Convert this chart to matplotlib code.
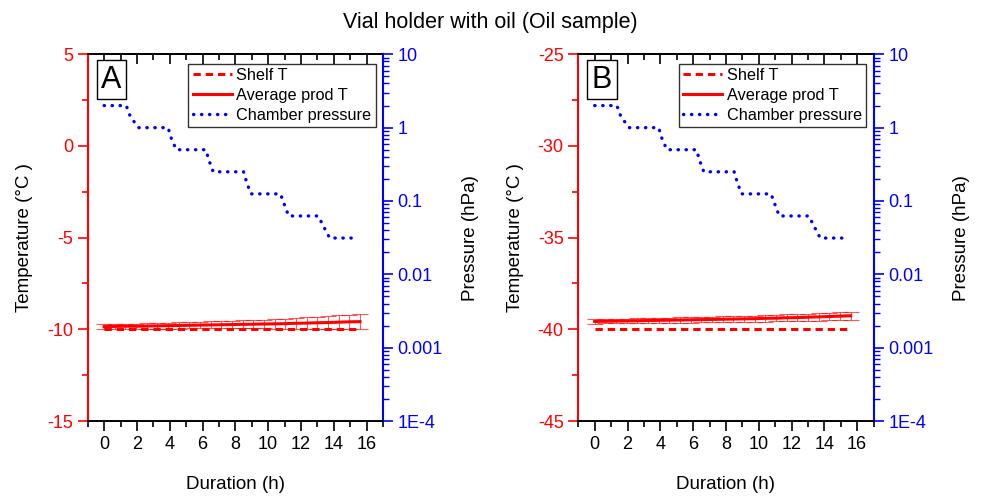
import matplotlib.pyplot as plt
import numpy as np
from matplotlib.ticker import MultipleLocator, LogLocator, FixedLocator, FuncFormatter, NullFormatter
from matplotlib.lines import Line2D

plt.rcParams['font.family'] = ['Liberation Sans', 'DejaVu Sans']
plt.rcParams['axes.unicode_minus'] = False

# ---- data ----
# product temperature sampling times (h)
t_prod = [0.0, 0.65, 1.3, 1.95, 2.6, 3.25, 3.9, 4.55, 5.2, 5.85, 6.5, 7.15, 7.8,
          8.45, 9.1, 9.75, 10.4, 11.05, 11.7, 12.35, 13.0, 13.65, 14.3, 14.95, 15.6]

# panel A (shelf at -10 C)
shelf_a = [-10.0] * len(t_prod)
prod_a = [-9.85, -9.84, -9.83, -9.83, -9.82, -9.81, -9.80, -9.79, -9.78, -9.77,
          -9.76, -9.75, -9.74, -9.73, -9.72, -9.71, -9.70, -9.69, -9.67, -9.66,
          -9.64, -9.63, -9.61, -9.59, -9.58]
err_a = [0.13, 0.13, 0.14, 0.14, 0.15, 0.15, 0.16, 0.17, 0.17, 0.18, 0.19, 0.20,
         0.21, 0.22, 0.23, 0.24, 0.26, 0.28, 0.30, 0.31, 0.33, 0.35, 0.37, 0.39, 0.40]

# panel B (shelf at -40 C)
shelf_b = [-40.0] * len(t_prod)
prod_b = [-39.57, -39.56, -39.55, -39.54, -39.53, -39.52, -39.51, -39.50, -39.49,
          -39.48, -39.47, -39.46, -39.45, -39.44, -39.43, -39.42, -39.40, -39.39,
          -39.37, -39.36, -39.34, -39.32, -39.30, -39.28, -39.26]
err_b = [0.12, 0.12, 0.12, 0.13, 0.13, 0.13, 0.14, 0.14, 0.14, 0.15, 0.15, 0.15,
         0.16, 0.16, 0.17, 0.17, 0.18, 0.18, 0.19, 0.19, 0.20, 0.20, 0.21, 0.21, 0.22]

# chamber pressure profile (same in both panels)
t_pres = [0.0, 1.35, 1.6, 2.1, 3.9, 4.1, 4.4, 6.2, 6.4, 6.65, 8.5, 8.7, 8.95,
          10.75, 11.0, 11.25, 13.05, 13.4, 13.75, 15.2]
pres = [2, 2, 1.41, 1, 1, 0.71, 0.5, 0.5, 0.354, 0.25, 0.25, 0.177, 0.125,
        0.125, 0.088, 0.0625, 0.0625, 0.044, 0.03125, 0.03125]

panels = [
    ('A', shelf_a, prod_a, err_a, (-15, 5)),
    ('B', shelf_b, prod_b, err_b, (-45, -25)),
]

fig = plt.figure(figsize=(9.81, 4.96), dpi=100)
fig.suptitle('Vial holder with oil (Oil sample)', fontsize=15.5, y=0.975)

lefts = [0.0894, 0.5895]
for (tag, shelf, prod, err, ylim), left in zip(panels, lefts):
    ax = fig.add_axes([left, 0.1512, 0.3010, 0.7393])
    ax2 = ax.twinx()

    ax.plot(t_prod, shelf, color='red', lw=2.2, linestyle=(0, (2.4, 1.6)))
    ax.errorbar(t_prod, prod, yerr=err, fmt='none', ecolor='red', elinewidth=0.8,
                capsize=5.5, capthick=0.8, alpha=0.65)
    ax.plot(t_prod, prod, color='red', lw=2.2)

    ax2.plot(t_pres, pres, color='blue', lw=2.4, linestyle=(0, (0.1, 2.3)),
             dash_capstyle='round')

    ax.set_xlim(-1, 17)
    ax.set_ylim(*ylim)
    ax2.set_yscale('log')
    ax2.set_ylim(1e-4, 10)

    ax.xaxis.set_major_locator(MultipleLocator(2))
    ax.xaxis.set_minor_locator(MultipleLocator(1))
    ax.set_xticks([0, 2, 4, 6, 8, 10, 12, 14, 16])
    ax.yaxis.set_major_locator(MultipleLocator(5))
    ax.yaxis.set_minor_locator(MultipleLocator(2.5))

    ax2.yaxis.set_major_locator(FixedLocator([1e-4, 1e-3, 1e-2, 0.1, 1, 10]))
    ax2.yaxis.set_minor_locator(LogLocator(base=10, subs=np.arange(2, 10)))
    ax2.yaxis.set_minor_formatter(NullFormatter())
    labels = {1e-4: '1E-4', 1e-3: '0.001', 1e-2: '0.01', 0.1: '0.1', 1: '1', 10: '10'}
    ax2.yaxis.set_major_formatter(FuncFormatter(
        lambda v, p: min(labels.items(), key=lambda kv: abs(np.log10(kv[0]) - np.log10(v)))[1]))

    ax.tick_params(axis='x', which='major', direction='out', length=7, width=1.2, labelsize=13)
    ax.tick_params(axis='x', which='minor', direction='out', length=4, width=1.2)
    ax.tick_params(axis='y', which='major', direction='out', length=7, width=1.2,
                   colors='red', labelsize=13)
    ax.tick_params(axis='y', which='minor', direction='out', length=4, width=1.2, colors='red')
    ax2.tick_params(axis='y', which='major', direction='out', length=7, width=1.2,
                    colors='blue', labelsize=13)
    ax2.tick_params(axis='y', which='minor', direction='out', length=4, width=1.0, colors='blue')

    top = ax.secondary_xaxis('top')
    top.xaxis.set_major_locator(MultipleLocator(2))
    top.xaxis.set_minor_locator(MultipleLocator(1))
    top.tick_params(which='major', direction='in', length=7, width=1.2, labeltop=False)
    top.tick_params(which='minor', direction='in', length=4, width=1.2)
    top.spines['top'].set_linewidth(1.2)

    for s in ['top', 'bottom']:
        ax.spines[s].set_linewidth(1.2)
        ax2.spines[s].set_linewidth(1.2)
    ax.spines['left'].set_color('red')
    ax.spines['left'].set_linewidth(1.5)
    ax2.spines['left'].set_visible(False)
    ax.spines['right'].set_visible(False)
    ax2.spines['right'].set_color('blue')
    ax2.spines['right'].set_linewidth(1.5)

    ax.set_xlabel('Duration (h)', fontsize=13.5, labelpad=17)
    ax.set_ylabel('Temperature (°C )', fontsize=13.5, labelpad=10)
    ax2.set_ylabel('Pressure (hPa)', fontsize=13.5, labelpad=14)

    ax2.text(0.046, 0.972, tag, transform=ax.transAxes, fontsize=22, ha='left', va='top',
             bbox=dict(boxstyle='square,pad=0.15', fc='white', ec='black', lw=1))

    handles = [
        Line2D([0], [0], color='red', lw=2.2, linestyle=(0, (2.4, 1.6))),
        Line2D([0], [0], color='red', lw=2.2),
        Line2D([0], [0], color='blue', lw=2.4, linestyle=(0, (0.1, 2.3)), dash_capstyle='round'),
    ]
    leg = ax2.legend(handles, ['Shelf T', 'Average prod T', 'Chamber pressure'],
                     loc='upper right', bbox_to_anchor=(0.975, 0.974), borderaxespad=0,
                     fontsize=11.7, frameon=True, fancybox=False, handlelength=2.4,
                     handletextpad=0.3, labelspacing=0.3, borderpad=0.25)
    leg.get_frame().set_edgecolor('black')
    leg.get_frame().set_linewidth(1)

fig.savefig('out.png', dpi=100)
